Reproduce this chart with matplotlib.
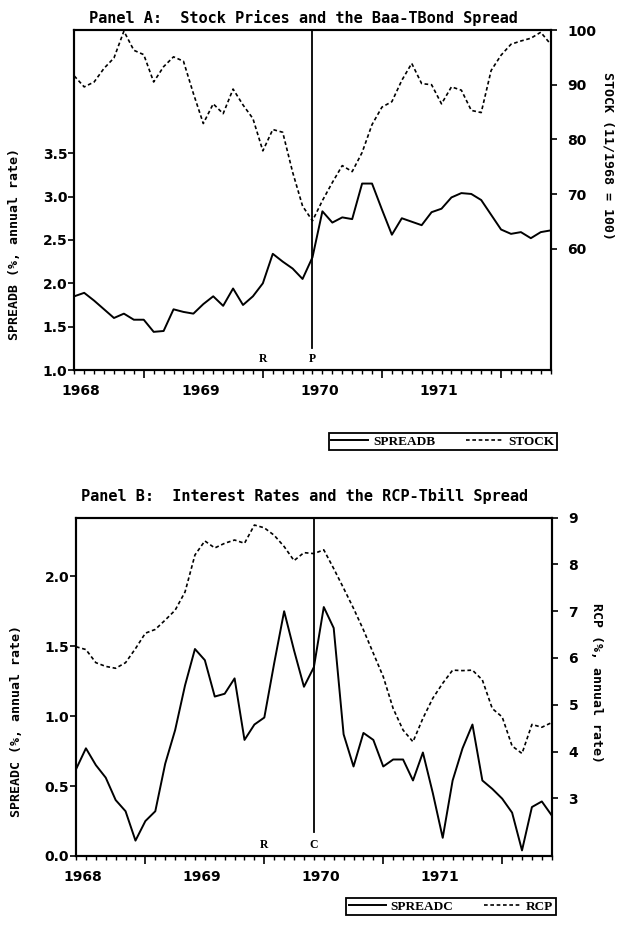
import numpy as np
import matplotlib
matplotlib.use('Agg')
import matplotlib.pyplot as plt
from matplotlib.transforms import ScaledTranslation, blended_transform_factory

plt.rcParams['font.family'] = 'DejaVu Sans'
plt.rcParams['font.weight'] = 'bold'

## Monthly data, Jan 1968 .. Jan 1972
months = 1968 + np.arange(49) / 12.0
years = [1968, 1969, 1970, 1971]
year_labels = ['1968', '1969', '1970', '1971']

spreadb = [1.85, 1.89, 1.80, 1.70, 1.60, 1.65, 1.58, 1.58, 1.44, 1.45,
           1.70, 1.67, 1.65, 1.76, 1.85, 1.74, 1.94, 1.75, 1.85, 2.00,
           2.34, 2.25, 2.17, 2.05, 2.30, 2.83, 2.70, 2.76, 2.74, 3.15,
           3.15, 2.85, 2.56, 2.75, 2.71, 2.67, 2.82, 2.86, 2.99, 3.04,
           3.03, 2.96, 2.79, 2.62, 2.57, 2.59, 2.52, 2.59, 2.61]
stock = [91.6, 89.6, 90.5, 93.0, 94.9, 99.8, 96.3, 95.5, 90.5, 93.3,
         95.1, 94.3, 88.4, 82.9, 86.5, 84.7, 89.2, 86.3, 83.8, 77.9,
         81.8, 81.3, 74.0, 67.8, 65.1, 68.8, 72.1, 75.2, 74.1, 77.6,
         82.7, 85.9, 86.9, 90.8, 93.9, 90.2, 90.0, 86.5, 89.6, 89.0,
         85.3, 84.9, 92.6, 95.4, 97.4, 98.0, 98.5, 99.6, 97.4]
spreadc = [0.62, 0.77, 0.65, 0.56, 0.40, 0.32, 0.11, 0.25, 0.32, 0.66,
           0.90, 1.22, 1.48, 1.40, 1.14, 1.16, 1.27, 0.83, 0.94, 0.99,
           1.38, 1.75, 1.47, 1.21, 1.35, 1.78, 1.63, 0.87, 0.64, 0.88,
           0.83, 0.64, 0.69, 0.69, 0.54, 0.74, 0.45, 0.13, 0.54, 0.77,
           0.94, 0.54, 0.48, 0.41, 0.31, 0.04, 0.35, 0.39, 0.29]
rcp = [6.24, 6.18, 5.90, 5.82, 5.78, 5.90, 6.20, 6.53, 6.61, 6.81,
       7.02, 7.41, 8.20, 8.50, 8.35, 8.45, 8.52, 8.45, 8.84, 8.78,
       8.62, 8.38, 8.08, 8.25, 8.23, 8.31, 7.91, 7.49, 7.06, 6.60,
       6.10, 5.60, 4.92, 4.46, 4.21, 4.71, 5.14, 5.46, 5.74, 5.73,
       5.74, 5.53, 4.92, 4.74, 4.12, 3.96, 4.58, 4.52, 4.62]

dash = (0, (2.2, 1.6))
monofont = 'DejaVu Sans Mono'
serif = 'Liberation Serif'


def panel(ax, left, right, lname, rname, llim, rlim, lticks, rticks,
          title, tpad, llabel, rlabel, llab_y, rlab_x, rlab_y, marker, vbot,
          leg_anchor):
    ax2 = ax.twinx()
    l1, = ax.plot(months, left, color='black', lw=1.4, label=lname)
    l2, = ax2.plot(months, right, color='black', lw=1.2, ls=dash, label=rname)

    ax.set_xlim(1968, 1972)
    ax.set_ylim(*llim)
    ax2.set_ylim(*rlim)
    ax.set_yticks(lticks)
    ax.set_yticklabels(['%.1f' % v for v in lticks])
    ax2.set_yticks(rticks)
    ax2.set_yticklabels([str(v) for v in rticks])

    # monthly ticks, tall ones every August, year labels on a second axis
    ax.set_xticks(months, minor=True)
    ax.set_xticks(np.array(years) + 7 / 12.)
    ax.set_xticklabels([])
    ax.tick_params(axis='x', which='major', direction='out', length=6, width=1.2)
    ax.tick_params(axis='x', which='minor', direction='out', length=3, width=1.0)
    ax.tick_params(axis='y', direction='out', length=4, width=1.2, pad=1, labelsize=10)
    ax2.tick_params(axis='y', direction='out', length=4, width=1.2, pad=8, labelsize=10)

    sec = ax.secondary_xaxis('bottom')
    sec.set_xticks(years)
    sec.set_xticklabels(year_labels)
    sec.tick_params(length=0, pad=10, labelsize=10)
    sec.spines['bottom'].set_visible(False)
    for lab in sec.get_xticklabels():
        lab.set_transform(lab.get_transform() + ScaledTranslation(0.07, 0, ax.figure.dpi_scale_trans))

    for a in (ax, ax2):
        for s in a.spines.values():
            s.set_linewidth(1.5)

    ax.axvline(1970, ymin=vbot, ymax=1, color='black', lw=1.3)
    trans = blended_transform_factory(ax.transData, ax.transAxes)
    ax.text(1969 + 7 / 12., 0.032, 'R', transform=trans, ha='center', va='center',
            family=serif, fontsize=8.5, fontweight='bold')
    ax.text(1970, 0.032, marker, transform=trans, ha='center', va='center',
            family=serif, fontsize=8.5, fontweight='bold')

    ax.set_title(title, x=0.48, pad=tpad, family=monofont, fontsize=11, fontweight='bold')
    ax.text(-0.125, llab_y, llabel, transform=ax.transAxes, rotation=90,
            ha='center', va='center', family=monofont, fontsize=9.5, fontweight='bold')
    ax.text(rlab_x, rlab_y, rlabel, transform=ax.transAxes, rotation=270,
            ha='center', va='center', family=monofont, fontsize=9.5, fontweight='bold')

    leg = ax.legend(handles=[l1, l2], loc='upper right', bbox_to_anchor=leg_anchor,
                    ncol=2, frameon=True, fancybox=False, framealpha=1,
                    edgecolor='black', borderaxespad=0, borderpad=0.2,
                    handlelength=2.8, handletextpad=0.4, columnspacing=2.3,
                    prop={'family': serif, 'weight': 'bold', 'size': 9.5})
    leg.get_frame().set_linewidth(1.3)
    return ax2


fig = plt.figure(figsize=(6.2, 9.42), dpi=100)
axA = fig.add_axes([0.1198, 0.6072, 0.7684, 0.3609])
axB = fig.add_axes([0.1226, 0.0913, 0.7673, 0.3593])

panel(axA, spreadb, stock, 'SPREADB', 'STOCK', (1.0, 4.92), (37.8, 100),
      [1.0, 1.5, 2.0, 2.5, 3.0, 3.5], [60, 70, 80, 90, 100],
      'Panel A:  Stock Prices and the Baa-TBond Spread', 5,
      'SPREADB (%, annual rate)', 'STOCK (11/1968 = 100)', 0.37, 1.12, 0.63,
      'P', 0.065, (1.013, -0.185))

panel(axB, spreadc, rcp, 'SPREADC', 'RCP', (0.0, 2.42), (1.77, 9.0),
      [0.0, 0.5, 1.0, 1.5, 2.0], [3, 4, 5, 6, 7, 8, 9],
      'Panel B:  Interest Rates and the RCP-Tbill Spread', 12,
      'SPREADC (%, annual rate)', 'RCP (%, annual rate)', 0.40, 1.095, 0.51,
      'C', 0.072, (1.009, -0.124))

fig.savefig('out.png', dpi=100)
